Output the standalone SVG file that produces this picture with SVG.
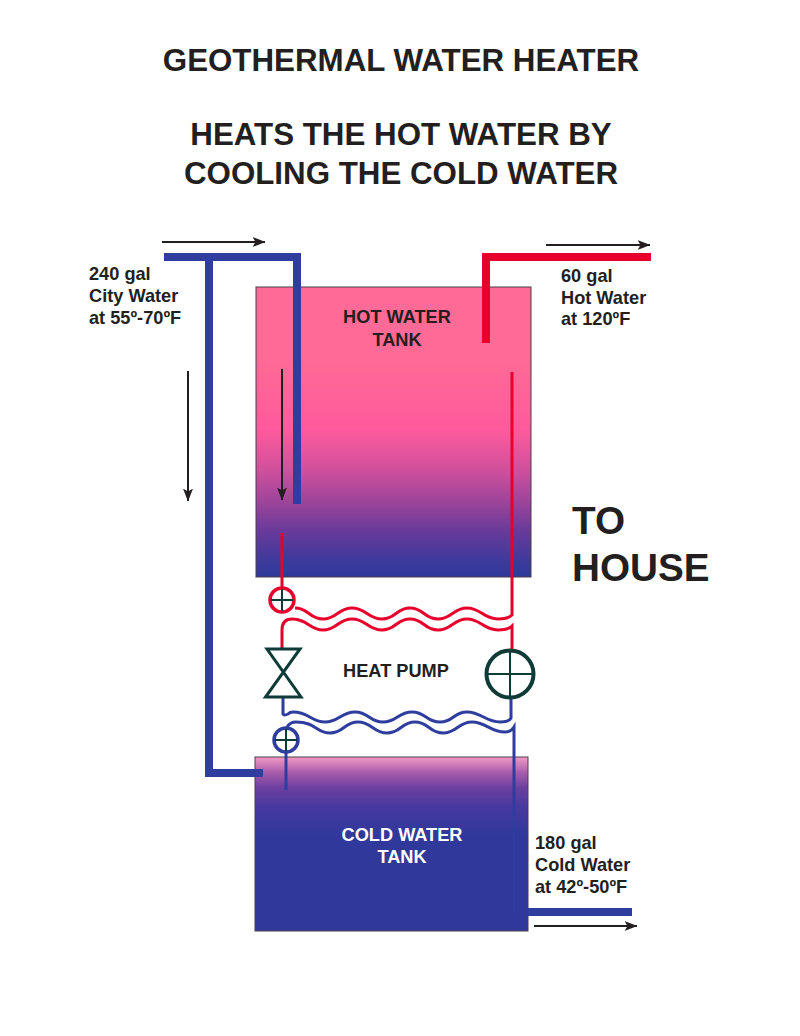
<svg xmlns="http://www.w3.org/2000/svg" width="800" height="1036" viewBox="0 0 800 1036">
<style>
text{font-family:"Liberation Sans",Arial,sans-serif;font-weight:700;fill:#231f20}
.t{font-size:31.3px;text-anchor:middle}
.s{font-size:18.2px}
.c{font-size:18.2px;text-anchor:middle}
.big{font-size:38.7px}
.tank{stroke:#4a3f4a;stroke-width:1}
.blue{stroke:#2e3d9e;fill:none}
.red{stroke:#e8002d;fill:none}
.thick{stroke-width:8}
.thin{stroke-width:3}
.dark{stroke:#0f3b36;fill:none}
.arrow{stroke:#231f20;stroke-width:2;fill:none;marker-end:url(#ah)}
</style>
<defs>
<linearGradient id="hot" x1="0" y1="0" x2="0" y2="1">
<stop offset="0" stop-color="#ff6a96"/><stop offset="0.25" stop-color="#ff6a96"/><stop offset="0.49" stop-color="#ff5a9c"/><stop offset="0.63" stop-color="#d0509c"/><stop offset="0.734" stop-color="#a0459a"/><stop offset="0.838" stop-color="#6a3a9a"/><stop offset="0.94" stop-color="#3f3a9c"/><stop offset="1" stop-color="#2e3a9a"/>
</linearGradient>
<linearGradient id="cold" x1="0" y1="0" x2="0" y2="1">
<stop offset="0" stop-color="#f59ac6"/><stop offset="0.09" stop-color="#a85cab"/><stop offset="0.18" stop-color="#6a3fa0"/><stop offset="0.3" stop-color="#45389e"/><stop offset="0.45" stop-color="#30399b"/><stop offset="1" stop-color="#30399b"/>
</linearGradient>
<marker id="ah" markerUnits="userSpaceOnUse" markerWidth="14" markerHeight="12" refX="12.5" refY="6" orient="auto"><path d="M0 1L13 6L0 11L3 6Z" fill="#231f20"/></marker>
</defs>
<text class="t" x="401" y="71">GEOTHERMAL WATER HEATER</text>
<text class="t" x="401" y="145">HEATS THE HOT WATER BY</text>
<text class="t" x="401" y="184">COOLING THE COLD WATER</text>

<g id="hot-tank">
<rect class="tank" x="256" y="287" width="275" height="290" fill="url(#hot)"/>
<text class="c" x="397" y="323">HOT WATER</text>
<text class="c" x="397" y="346">TANK</text>
</g>
<g id="cold-tank">
<rect class="tank" x="255" y="757" width="273" height="174" fill="url(#cold)"/>
<text class="c" x="402" y="841" style="fill:#fff">COLD WATER</text>
<text class="c" x="402" y="863" style="fill:#fff">TANK</text>
</g>

<g id="connectors">
<path class="blue thick" d="M164 257H297V504"/>
<path class="blue thick" d="M209 257V773H263"/>
<path class="red thick" d="M651 257H486V343"/>
<path class="blue thick" d="M528 912H632"/>
<path class="arrow" d="M162 242H265"/>
<path class="arrow" d="M546 245H650"/>
<path class="arrow" d="M534 926H637"/>
<path class="arrow" d="M188 371V501"/>
<path class="arrow" d="M282 369V500"/>
<path class="red thin" d="M282 533V590"/>
<path class="red thin" d="M295 608C309 608 309 619 323 619S338 608 352 608S368 619 382 619S396 608 410 608S424 619 438 619S453 608 467 608S483 619 498 619Q508 619 512 615V372"/>
<path class="red thin" d="M282 650V630Q282 619 292 619C308 619 309 630 323 630S338 619 352 619S368 630 382 630S396 619 410 619S424 630 438 630S453 619 467 619S483 630 498 630Q508 630 512 626V652"/>
<path class="blue thin" d="M283 698V714Q284 716 288 714Q290 712 293 712C309 712 311 722 325 722S341 712 355 712S369 722 383 722S398 712 412 712S426 722 440 722S453 712 467 712S486 722 500 722Q509 722 511 718V698"/>
<path class="blue thin" d="M287 727Q290 722 296 722C316 722 316 733 330 733S344 722 358 722S373 733 387 733S401 722 415 722S429 733 443 733S458 722 472 722S490 732 505 732Q511 732 514 727V912"/>
<path class="blue thin" d="M286 752V790"/>
</g>

<g id="pump-top">
<circle cx="282" cy="600" r="12" fill="none" stroke="#e8002d" stroke-width="3.5"/>
<path d="M271 600H293M282 589V611" stroke="#0f3b36" stroke-width="2" fill="none"/>
</g>
<g id="pump-bottom">
<circle cx="286" cy="740" r="12" fill="none" stroke="#2e3d9e" stroke-width="3.5"/>
<path d="M275 740H297M286 729V751" stroke="#0f3b36" stroke-width="2" fill="none"/>
</g>
<g id="valve">
<path class="dark" stroke-width="3" d="M267 649H300L265.500 697H301Z"/>
</g>
<g id="compressor">
<circle class="dark" stroke-width="4" cx="510" cy="674" r="23.500"/>
<path class="dark" stroke-width="2" d="M487 674H533M510 651V697"/>
</g>
<text class="c" x="396" y="677">HEAT PUMP</text>

<text class="s" x="89" y="280">240 gal</text>
<text class="s" x="89" y="302">City Water</text>
<text class="s" x="89" y="324">at 55º-70ºF</text>
<text class="s" x="561" y="282">60 gal</text>
<text class="s" x="561" y="304">Hot Water</text>
<text class="s" x="561" y="325">at 120ºF</text>
<text class="s" x="535" y="849">180 gal</text>
<text class="s" x="535" y="871">Cold Water</text>
<text class="s" x="535" y="893">at 42º-50ºF</text>
<text class="big" x="572" y="534">TO</text>
<text class="big" x="572" y="581">HOUSE</text>
</svg>
